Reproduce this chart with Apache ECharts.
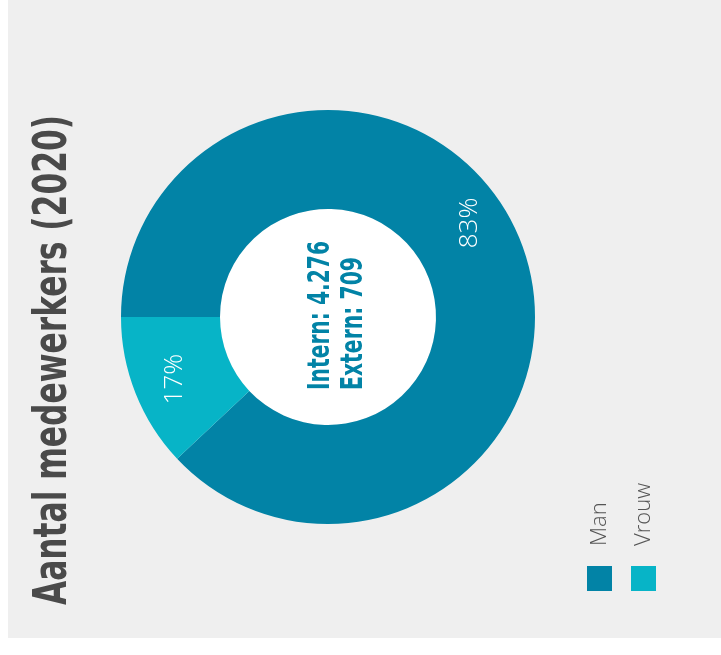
<!DOCTYPE html>
<html>
<head>
<meta charset="utf-8">
<script src="https://cdn.jsdelivr.net/npm/echarts@6/dist/echarts.min.js"></script>
<style>
  html, body { margin: 0; padding: 0; background: #ffffff; }
  #main { width: 721px; height: 655px; }
</style>
</head>
<body>
<div id="main"></div>
<script>
// categorieen en waarden
var categories = ['Man', 'Vrouw'];
var sliceShare = [88, 12];          // aandeel zoals getekend in de ring
var labelText = ['83%', '17%'];     // percentages zoals vermeld
var colors = ['#0283a6', '#07b4c7'];
var centerLines = ['Intern: 4.276', 'Extern: 709'];
var titleText = 'Aantal medewerkers (2020)';

var myChart = echarts.init(document.getElementById('main'), null, { renderer: 'canvas' });

var condensed = '"DejaVu Sans Condensed", "DejaVu Sans", sans-serif';
var thin = '"Open Sans", "Noto Sans", sans-serif';

// breedte van tekst meten om smal lettertype na te bootsen
var measureCtx = document.createElement('canvas').getContext('2d');
function squeeze(text, font, targetLen) {
  measureCtx.font = font;
  return targetLen / measureCtx.measureText(text).width;
}

var pieData = categories.map(function (c, i) {
  return { name: c, value: sliceShare[i], itemStyle: { color: colors[i] } };
});

var titleFont = 'bold 46px ' + condensed;
var graphics = [
  // grijze achtergrond
  { type: 'rect', z: -10, silent: true,
    shape: { x: 8, y: 0, width: 713, height: 638 },
    style: { fill: '#efefef' } },
  // wit gat van de ring
  { type: 'circle', z: -5, silent: true,
    shape: { cx: 328, cy: 317, r: 108 },
    style: { fill: '#ffffff' } },
  // titel (gedraaid)
  { type: 'text', x: 54, y: 605, rotation: Math.PI / 2,
    scaleX: squeeze(titleText, titleFont, 490),
    style: { text: titleText, font: titleFont, fill: '#4a4a4a',
             align: 'left', verticalAlign: 'middle' } }
];

// tekst in het midden
var centerLens = [149, 133];
centerLines.forEach(function (t, i) {
  var f = 'bold 30px ' + condensed;
  graphics.push({ type: 'text', x: 321 + i * 33, y: 390, rotation: Math.PI / 2, z: 10,
    scaleX: squeeze(t, f, centerLens[i]),
    style: { text: t, font: f, fill: '#0283a6',
             align: 'left', verticalAlign: 'middle' } });
});

// legenda
categories.forEach(function (c, i) {
  graphics.push({ type: 'rect', shape: { x: 587 + i * 44, y: 566, width: 25, height: 25 },
    style: { fill: colors[i] } });
  graphics.push({ type: 'text', x: 600 + i * 44, y: 546, rotation: Math.PI / 2,
    style: { text: c, font: '300 22px ' + thin, fill: '#555555',
             align: 'left', verticalAlign: 'middle' } });
});

var option = {
  animation: false,
  graphic: graphics,
  series: [
    {
      name: 'Medewerkers',
      type: 'pie',
      center: [328, 317],
      radius: [108, 207],
      startAngle: 180,
      clockwise: true,
      silent: true,
      data: pieData,
      label: {
        show: true,
        position: 'inside',
        rotate: 90,
        color: '#ffffff',
        fontFamily: thin,
        fontWeight: 300,
        fontSize: 26,
        formatter: function (p) { return labelText[p.dataIndex]; }
      },
      labelLine: { show: false },
      // verschuiving in het gedraaide labelvlak
      labelLayout: function (p) {
        return p.dataIndex === 0 ? { dx: 35, dy: -8 } : { dx: -3, dy: -4 };
      }
    }
  ]
};

myChart.setOption(option);
</script>
</body>
</html>
